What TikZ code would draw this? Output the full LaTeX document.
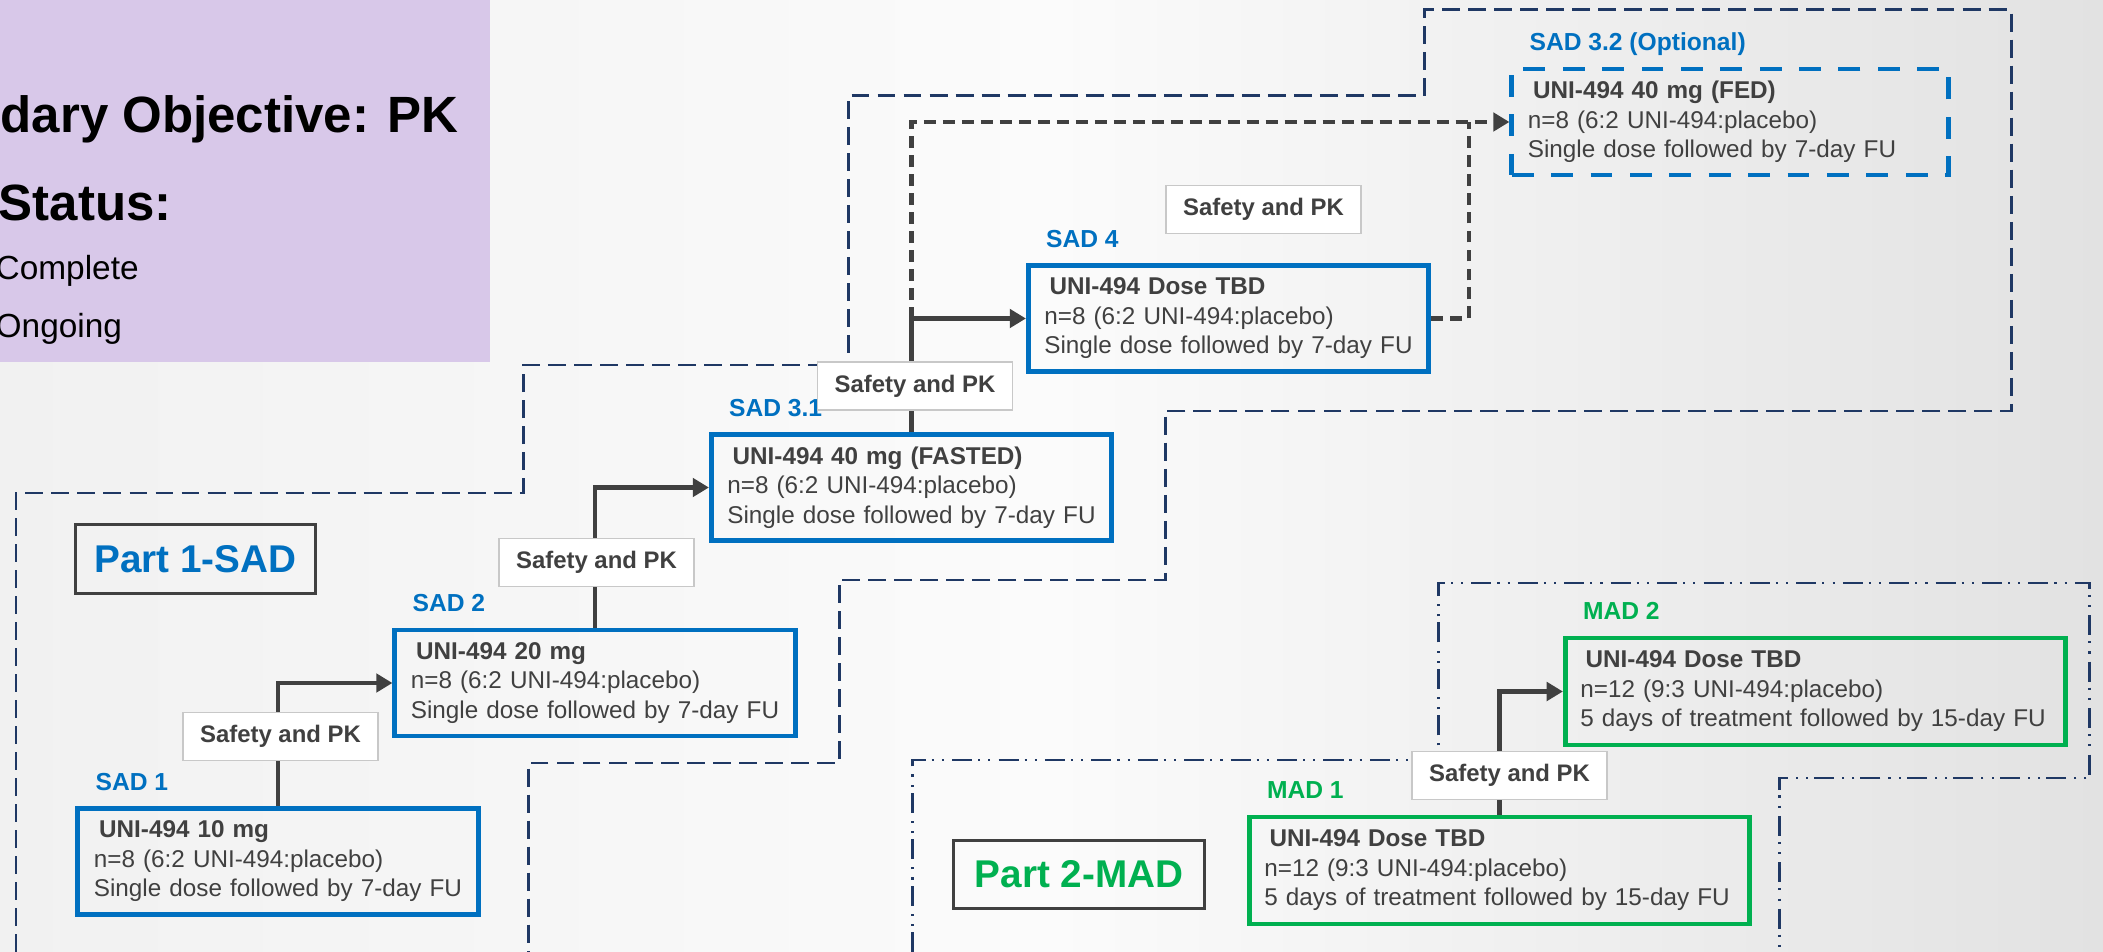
\documentclass[tikz,border=0pt]{standalone}
\usepackage{fontspec}
\setmainfont{Liberation Sans}
\usetikzlibrary{positioning}
\usetikzlibrary{arrows.meta}
\usetikzlibrary{math}
\pgfdeclarelayer{background}
\pgfsetlayers{background,main}
\definecolor{sadblue}{HTML}{0070C0}
\definecolor{madgreen}{HTML}{00B050}
\definecolor{txtgray}{HTML}{404040}
\definecolor{navy}{HTML}{1F3864}
\definecolor{lilac}{HTML}{D8C8E9}
\definecolor{edgegray}{HTML}{C8C8C8}
\definecolor{bgleft}{HTML}{F1F1F1}
\definecolor{bgmid}{HTML}{FBFBFB}
\definecolor{bgright}{HTML}{E2E2E2}
\tikzset{sadbox/.style={draw=sadblue, line width=1.4pt, minimum width=4cm, minimum height=1.06cm, text width=3.68cm, inner xsep=0.16cm, inner ysep=0pt, align=left, text=txtgray},
fedbox/.style={sadbox, dash pattern=on 6.2pt off 5pt, minimum width=4.36cm, text width=4.04cm, inner xsep=0.16cm},
madbox/.style={sadbox, draw=madgreen, minimum width=5cm, minimum height=1.07cm, text width=4.7cm, inner xsep=0.15cm},
tag/.style={anchor=base west, inner sep=0pt, font=\fontsize{7}{8}\selectfont\bfseries},
safety/.style={draw=edgegray, line width=0.5pt, fill=white, minimum width=1.95cm, minimum height=0.48cm, inner sep=0pt, text=txtgray, font=\fontsize{6.8}{8}\selectfont\bfseries},
partbox/.style={draw=txtgray, line width=0.85pt, inner sep=0pt, font=\fontsize{11}{13}\selectfont\bfseries},
arm/.style={draw=txtgray, line width=1.4pt, -{Triangle[length=4.6pt,width=5.2pt]}},
darm/.style={arm, line width=1.2pt, dash pattern=on 3.4pt off 2pt},
sadzone/.style={draw=navy, line width=0.85pt, dash pattern=on 5.1pt off 2.3pt},
madzone/.style={draw=navy, line width=0.85pt, dash pattern=on 5.7pt off 1.7pt on 0.6pt off 2.3pt on 0.6pt off 2.3pt},
panel/.style={anchor=base west, inner sep=0pt, text=black}}

\begin{document}
\begin{tikzpicture}[x=0.01cm, y=-0.01cm, font=\fontsize{6.9}{8.4}\selectfont]
	\tikzmath{\lx=19.5; \ly=-16;}
	\useasboundingbox (0,0) rectangle (2103,952);
	\begin{pgfonlayer}{background}
		\shade[left color=bgleft, right color=bgright, middle color=bgmid] (0,0) rectangle (2103,952);
	\end{pgfonlayer}
	%objectives panel
	\fill[lilac] (0,0) rectangle (490,362);
	\node[panel, font=\fontsize{14.5}{16}\selectfont\bfseries] (obj) at (0,133) {dary Objective: PK};
	\node[panel, font=\fontsize{14.5}{16}\selectfont\bfseries] (status) at (-2,221) {Status:};
	\node[panel, font=\fontsize{9.5}{11}\selectfont] (done) at (-5,280) {Complete};
	\node[panel, font=\fontsize{9.5}{11}\selectfont] (ongo) at (-5,338) {Ongoing};
	%zones
	\draw[sadzone] (16,952) -- (16,493) -- (523,493) -- (523,365) -- (848,365) -- (848,96) -- (1424,96) -- (1424,10) -- (2011,10) -- (2011,411) -- (1165,411) -- (1165,580) -- (839,580) -- (839,763) -- (528,763) -- (528,952);
	\draw[madzone] (912,952) -- (912,760) -- (1438,760) -- (1438,583) -- (2089,583) -- (2089,778) -- (1779,778) -- (1779,952);
	%cohorts
	\node[sadbox] (sad1) at (278,861.5) {\textbf{\hspace{1.5pt}UNI-494 10 mg}\\n=8 (6:2 UNI-494:placebo)\\Single dose followed by 7-day FU};
	\node[sadbox] (sad2) at (595,683) {\textbf{\hspace{1.5pt}UNI-494 20 mg}\\n=8 (6:2 UNI-494:placebo)\\Single dose followed by 7-day FU};
	\node[sadbox] (sad31) at (911.5,487.5) {\textbf{\hspace{1.5pt}UNI-494 40 mg (FASTED)}\\n=8 (6:2 UNI-494:placebo)\\Single dose followed by 7-day FU};
	\node[sadbox] (sad4) at (1228.5,318.5) {\textbf{\hspace{1.5pt}UNI-494 Dose TBD}\\n=8 (6:2 UNI-494:placebo)\\Single dose followed by 7-day FU};
	\node[fedbox] (sad32) at (1730,122) {\textbf{\hspace{1.5pt}UNI-494 40 mg (FED)}\\n=8 (6:2 UNI-494:placebo)\\Single dose followed by 7-day FU};
	\node[madbox] (mad1) at (1499.5,870.5) {\textbf{\hspace{1.5pt}UNI-494 Dose TBD}\\n=12 (9:3 UNI-494:placebo)\\5 days of treatment followed by 15-day FU};
	\node[madbox] (mad2) at (1815.5,691.5) {\textbf{\hspace{1.5pt}UNI-494 Dose TBD}\\n=12 (9:3 UNI-494:placebo)\\5 days of treatment followed by 15-day FU};
	\node[tag, text=sadblue] (tsad1) at ([shift={(\lx,\ly)}]sad1.north west) {SAD 1};
	\node[tag, text=sadblue] (tsad2) at ([shift={(\lx,\ly)}]sad2.north west) {SAD 2};
	\node[tag, text=sadblue] (tsad31) at ([shift={(\lx,\ly)}]sad31.north west) {SAD 3.1};
	\node[tag, text=sadblue] (tsad4) at ([shift={(\lx,\ly)}]sad4.north west) {SAD 4};
	\node[tag, text=sadblue] (tsad32) at ([shift={(\lx,\ly)}]sad32.north west) {SAD 3.2 (Optional)};
	\node[tag, text=madgreen] (tmad1) at ([shift={(\lx,\ly)}]mad1.north west) {MAD 1};
	\node[tag, text=madgreen] (tmad2) at ([shift={(\lx,\ly)}]mad2.north west) {MAD 2};
	%escalation
	\coordinate (merge) at (1469,122);
	\draw[arm] (sad1.north) |- (sad2.west);
	\draw[arm] (sad2.north) |- (sad31.west);
	\draw[arm] (sad31.north) |- (sad4.west);
	\draw[arm] (mad1.north) |- (mad2.west);
	\draw[darm] (sad31.north |- sad4.west) |- (sad32.west);
	\draw[darm, -] (sad4.east) -| (merge);
	\node[safety] (pk1) at (280.5,736.5) {Safety and PK};
	\node[safety] (pk2) at (596.5,562.5) {Safety and PK};
	\node[safety] (pk3) at (915,386) {Safety and PK};
	\node[safety] (pk4) at (1263.5,209.5) {Safety and PK};
	\node[safety] (pk5) at (1509.5,775.5) {Safety and PK};
	\node[partbox, text=sadblue, minimum width=2.39cm, minimum height=0.68cm] (part1) at (195.5,559) {Part 1-SAD};
	\node[partbox, text=madgreen, minimum width=2.5cm, minimum height=0.67cm] (part2) at (1079,874.5) {Part 2-MAD};
\end{tikzpicture}
\end{document}
